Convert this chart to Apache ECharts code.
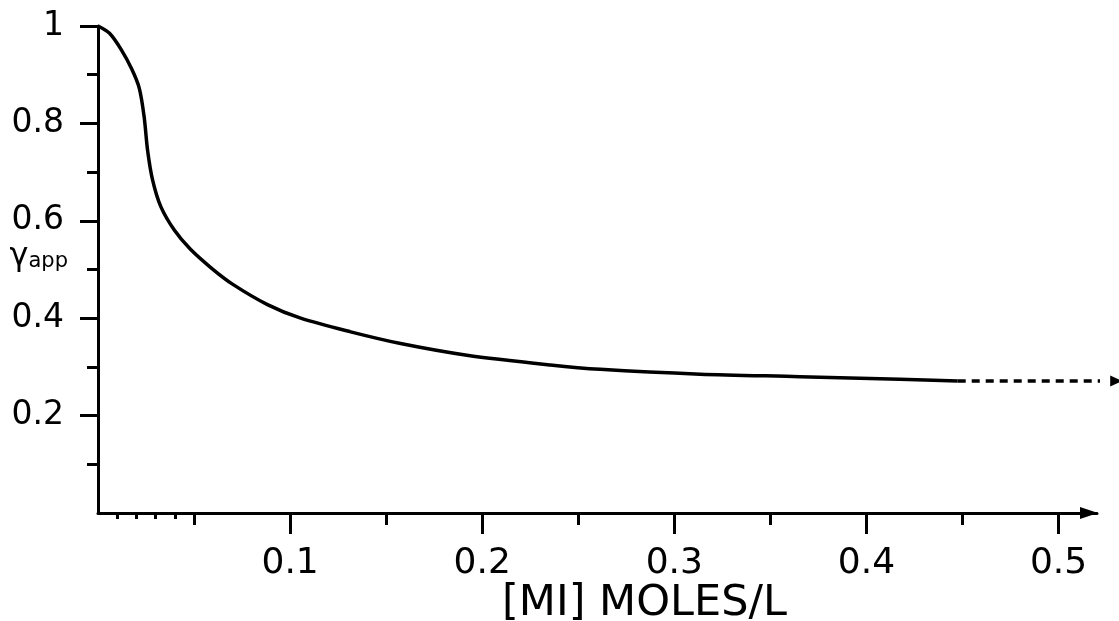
<!DOCTYPE html>
<html>
<head>
<meta charset="utf-8">
<script src="https://cdn.jsdelivr.net/npm/echarts@6/dist/echarts.min.js"></script>
<style>
  html, body { margin: 0; padding: 0; background: #fff; }
  #chart { width: 1119px; height: 621px; }
</style>
</head>
<body>
<div id="chart"></div>
<script>
const curveX = [0, 0.006, 0.012, 0.0175, 0.0215, 0.024, 0.0258, 0.0284, 0.0327, 0.0397, 0.048, 0.059,
	0.07, 0.0882, 0.1055, 0.1315, 0.1575, 0.192, 0.2355, 0.2614, 0.3134, 0.3654, 0.4174, 0.4475];
const curveY = [1.0, 0.985, 0.952, 0.912, 0.872, 0.814, 0.745, 0.684, 0.629, 0.581, 0.542, 0.503,
	0.47, 0.428, 0.400, 0.372, 0.348, 0.324, 0.304, 0.295, 0.285, 0.280, 0.2745, 0.271];

// dashed extrapolation
const dashX = [0.4475, 0.53];
const dashY = [0.271, 0.271];

// ticks / labels
const xLabels = [0.1, 0.2, 0.3, 0.4, 0.5];
const xHalfTicks = [0.05, 0.15, 0.25, 0.35, 0.45];
const xSmallTicks = [0.01, 0.02, 0.03, 0.04];
const yLabels = [0.2, 0.4, 0.6, 0.8, 1];

const font = "DejaVu Sans";
const ink = "#000";

const curveData = curveX.map((x, i) => [x, curveY[i]]);
const dashData = dashX.map((x, i) => {
	if (i === dashX.length - 1) {
		return { value: [x, dashY[i]], symbol: 'triangle', symbolSize: [11, 12], symbolRotate: -90 };
	}
	return { value: [x, dashY[i]], symbol: 'none' };
});

const baseX = {
	type: 'value', min: 0, max: 0.52, position: 'bottom',
	splitLine: { show: false },
	axisLabel: { show: false },
	axisLine: { show: false }
};

const chart = echarts.init(document.getElementById('chart'), null, { renderer: 'canvas' });

chart.setOption({
	animation: false,
	backgroundColor: '#fff',
	grid: { left: 98, top: 26, right: 22, bottom: 108, outerBoundsMode: 'none', containLabel: false },
	xAxis: [
		{
			...baseX,
			name: '[MI] MOLES/L',
			nameLocation: 'middle',
			nameGap: 69,
			nameMoveOverlap: false,
			nameTextStyle: { fontFamily: font, fontSize: 43, color: ink, padding: [0, 0, 0, 94] },
			axisLine: {
				show: true, onZero: false,
				lineStyle: { color: ink, width: 3 },
				symbol: ['none', 'triangle'], symbolSize: [12, 18], symbolOffset: [0, -8]
			},
			axisTick: { show: true, customValues: xLabels, length: 21, lineStyle: { color: ink, width: 3 } },
			axisLabel: {
				show: true, customValues: xLabels, margin: 33,
				fontFamily: font, fontSize: 36, color: ink
			}
		},
		{
			...baseX,
			axisTick: { show: true, customValues: xHalfTicks, length: 12, lineStyle: { color: ink, width: 3 } }
		},
		{
			...baseX,
			axisTick: { show: true, customValues: xSmallTicks, length: 6, lineStyle: { color: ink, width: 3 } }
		}
	],
	yAxis: {
		type: 'value', min: 0, max: 1,
		name: '{g|γ}{s|app}',
		nameLocation: 'middle',
		nameRotate: 0,
		nameGap: 30,
		nameMoveOverlap: false,
		nameTextStyle: {
			align: 'right',
			padding: [0, 0, 26, 0],
			rich: {
				g: { fontFamily: font, fontSize: 32, color: ink },
				s: { fontFamily: font, fontSize: 21, color: ink, verticalAlign: 'bottom', padding: [10, 0, 0, 0] }
			}
		},
		splitLine: { show: false },
		axisLine: { show: true, lineStyle: { color: ink, width: 3 } },
		axisTick: { show: true, customValues: yLabels, length: 18, lineStyle: { color: ink, width: 3 } },
		minorTick: { show: true, splitNumber: 2, length: 11, lineStyle: { color: ink, width: 3 } },
		axisLabel: {
			customValues: yLabels, margin: 34,
			fontFamily: font, fontSize: 33, color: ink
		}
	},
	series: [
		{
			type: 'line',
			data: curveData,
			showSymbol: false,
			smooth: 0.3,
			lineStyle: { color: ink, width: 3.5 }
		},
		{
			type: 'line',
			data: dashData,
			clip: false,
			itemStyle: { color: ink },
			lineStyle: { color: ink, width: 3.5, type: [8, 6] }
		}
	]
});
</script>
</body>
</html>
